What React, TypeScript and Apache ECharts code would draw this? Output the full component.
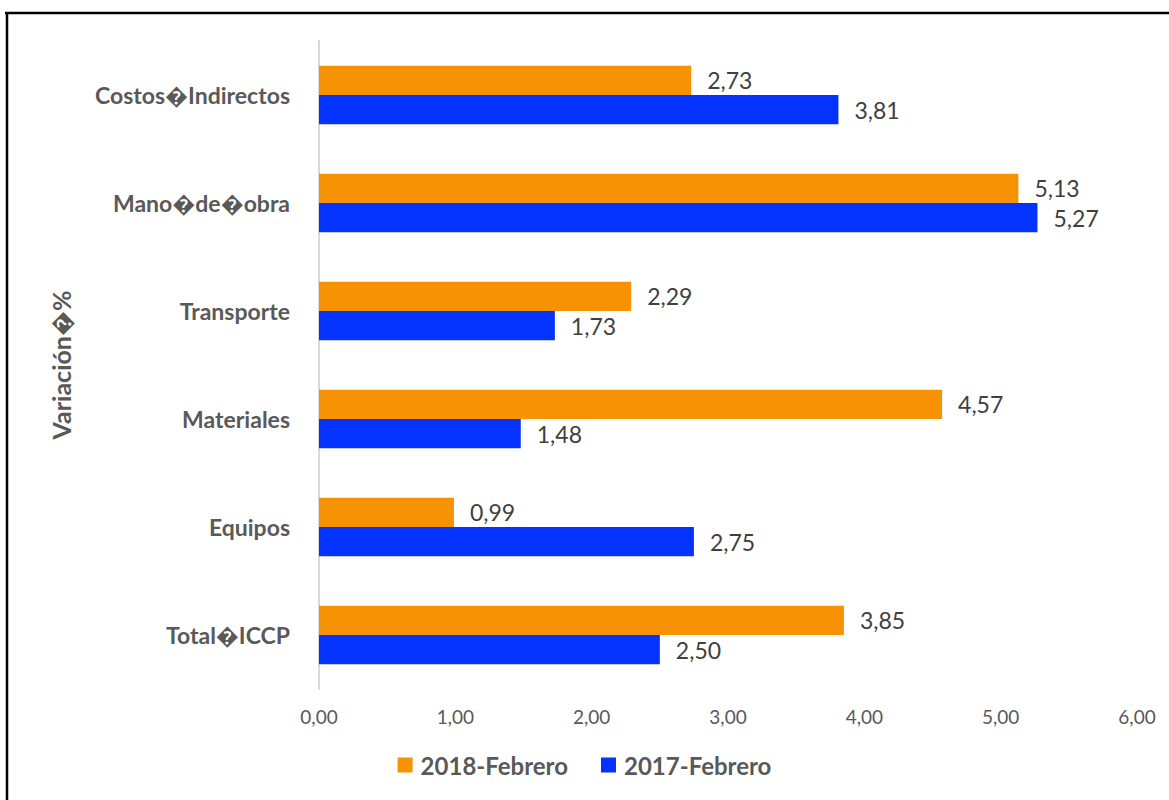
import React, { useEffect, useRef } from "react";
import * as echarts from "echarts";

const categories = ["Total\uFFFDICCP", "Equipos", "Materiales", "Transporte", "Mano\uFFFDde\uFFFDobra", "Costos\uFFFDIndirectos"];
const s2018 = [3.85, 0.99, 4.57, 2.29, 5.13, 2.73];
const s2017 = [2.5, 2.75, 1.48, 1.73, 5.27, 3.81];
const seriesNames = ["2018-Febrero", "2017-Febrero"];
const xTicks = { min: 0, max: 6, interval: 1 };
const yAxisName = "Variación\uFFFD%";

const FONT = "Lato, 'Noto Sans', sans-serif";
const fmt = (v: number) => v.toFixed(2).replace(".", ",");

export default function App() {
  const ref = useRef<HTMLDivElement>(null);
  useEffect(() => {
    if (!ref.current) return;
    const chart = echarts.init(ref.current, undefined, { renderer: "svg" });
    const label = {
      show: true,
      position: "right" as const,
      distance: 16,
      color: "#404040",
      fontSize: 23,
      fontFamily: FONT,
      formatter: (p: any) => fmt(p.value),
    };
    chart.setOption({
      animation: false,
      backgroundColor: "#ffffff",
      textStyle: { fontFamily: FONT },
      grid: { left: 319, top: 41, width: 818, height: 648, containLabel: false },
      legend: {
        data: seriesNames,
        bottom: 18,
        left: "center",
        itemWidth: 15,
        itemHeight: 15,
        itemGap: 33,
        icon: "rect",
        textStyle: { fontSize: 24, fontWeight: "bold", color: "#595959", fontFamily: FONT, padding: [0, 0, 0, 3] },
      },
      xAxis: {
        type: "value",
        min: xTicks.min,
        max: xTicks.max,
        interval: xTicks.interval,
        axisLine: { show: false },
        axisTick: { show: false },
        splitLine: { show: false },
        axisLabel: {
          formatter: (v: number) => fmt(v),
          fontSize: 19,
          color: "#595959",
          margin: 18,
          fontFamily: FONT,
        },
      },
      yAxis: {
        type: "category",
        data: categories,
        name: yAxisName,
        nameLocation: "middle",
        nameGap: 246,
        nameRotate: 90,
        nameTextStyle: { fontSize: 25, fontWeight: "bold", color: "#595959", fontFamily: FONT },
        axisLine: { show: true, lineStyle: { color: "#D9D9D9", width: 2 } },
        axisTick: { show: false },
        axisLabel: {
          fontSize: 23,
          fontWeight: "bold",
          color: "#595959",
          margin: 29,
          fontFamily: FONT,
        },
      },
      series: [
        {
          name: seriesNames[0],
          type: "bar",
          data: s2018,
          itemStyle: { color: "#F79205" },
          barGap: "0%",
          barCategoryGap: "46%",
          label,
        },
        {
          name: seriesNames[1],
          type: "bar",
          data: s2017,
          itemStyle: { color: "#0433FF" },
          barGap: "0%",
          barCategoryGap: "46%",
          label,
        },
      ],
      graphic: [
        { type: "line", shape: { x1: 5, y1: 13, x2: 1169, y2: 13 }, style: { stroke: "#000", lineWidth: 2.5 } },
        { type: "line", shape: { x1: 7, y1: 12, x2: 7, y2: 800 }, style: { stroke: "#000", lineWidth: 2.5 } },
      ],
    });
    return () => chart.dispose();
  }, []);
  return <div ref={ref} style={{ position: "absolute", left: 0, top: 0, width: 1169, height: 800 }} />;
}
